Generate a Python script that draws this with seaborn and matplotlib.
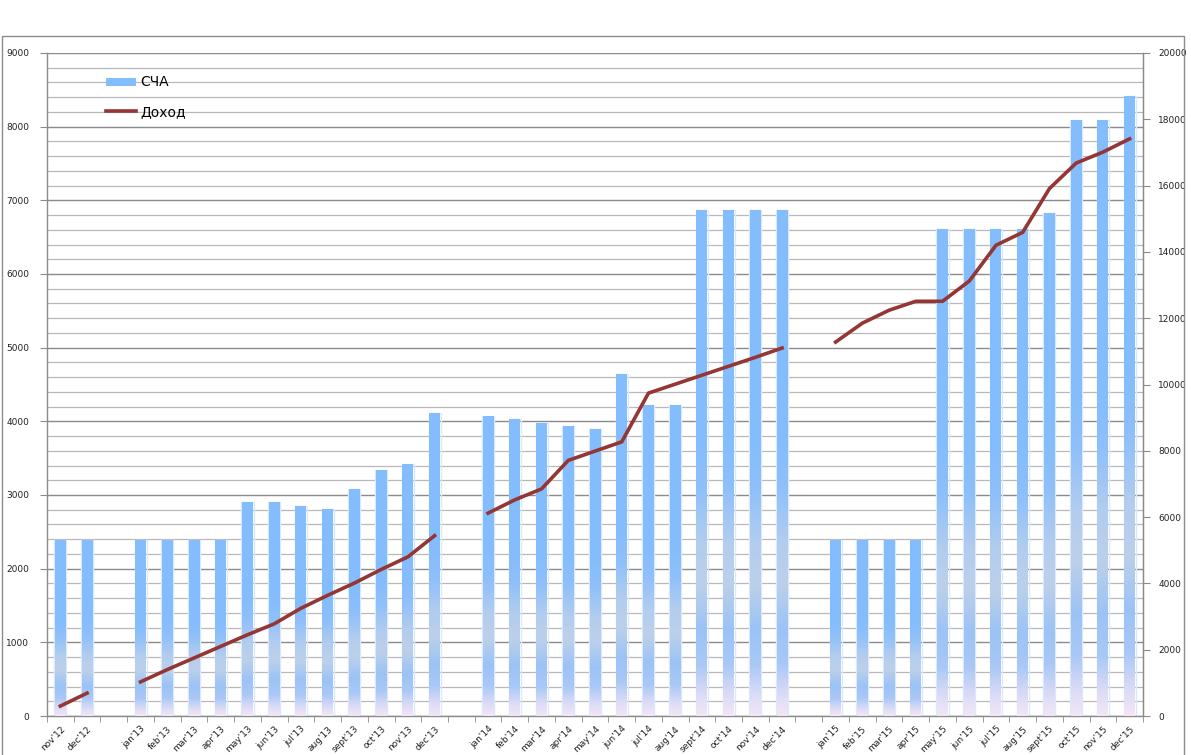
import numpy as np
import pandas as pd
import matplotlib
matplotlib.use("Agg")
import matplotlib.pyplot as plt
from matplotlib.colors import LinearSegmentedColormap
from matplotlib.lines import Line2D
from matplotlib.patches import Rectangle, Patch
import seaborn as sns

# ---- data ----
labels = ["nov'12", "dec'12", "",
          "jan'13", "feb'13", "mar'13", "apr'13", "may'13", "jun'13", "jul'13", "aug'13",
          "sept'13", "oct'13", "nov'13", "dec'13", " ",
          "jan'14", "feb'14", "mar'14", "apr'14", "may'14", "jun'14", "jul'14", "aug'14",
          "sept'14", "oct'14", "nov'14", "dec'14", "  ",
          "jan'15", "feb'15", "mar'15", "apr'15", "may'15", "jun'15", "jul'15", "aug'15",
          "sept'15", "oct'15", "nov'15", "dec'15"]
sca = [2390, 2390, np.nan,
       2390, 2390, 2390, 2390, 2900, 2900, 2850, 2810, 3080, 3340, 3420, 4110, np.nan,
       4070, 4030, 3980, 3940, 3900, 4640, 4220, 4220, 6870, 6870, 6870, 6870, np.nan,
       2390, 2390, 2390, 2390, 6610, 6610, 6610, 6610, 6830, 8090, 8090, 8410]
income = [300, 690, np.nan,
          1030, 1400, 1750, 2100, 2450, 2780, 3250, 3640, 4010, 4420, 4800, 5440, np.nan,
          6120, 6520, 6850, 7710, 7990, 8270, 9740, 10010, 10280, 10550, 10820, 11100, np.nan,
          11280, 11850, 12240, 12510, 12510, 13120, 14200, 14590, 15910, 16680, 17010, 17410]
segment = [0, 0, -1] + [1] * 12 + [-1] + [2] * 12 + [-1] + [3] * 12

df = pd.DataFrame({"label": labels, "sca": sca, "income": income,
                   "pos": np.arange(len(labels)), "seg": segment})

W, H = 1191, 755
fig = plt.figure(figsize=(W / 100, H / 100), dpi=100)
ax = fig.add_axes([47 / W, 1 - 716 / H, (1143 - 47) / W, (716 - 53) / H])

# outer frame
fig.patches.append(Rectangle((2 / W, -0.01), (1184 - 2) / W, (H - 36) / H + 0.01,
                             transform=fig.transFigure, fill=False,
                             edgecolor="#8c8c8c", lw=1.0, zorder=0))

sns.barplot(data=df, x="label", y="sca", order=labels, color="#84bdfd",
            width=0.41, ax=ax, zorder=3, errorbar=None, saturation=1)

# gradient fill for bars
cmap = LinearSegmentedColormap.from_list("bargrad", [
    (0.00, "#f2e6f6"), (0.04, "#dcdcf6"), (0.10, "#a9c8f6"), (0.17, "#9cc3f6"),
    (0.26, "#bcd0ea"), (0.34, "#b3cdef"), (0.45, "#8fc0fa"), (0.55, "#84bdfd"),
    (1.00, "#84bdfd")])
grad = np.linspace(0, 1, 256).reshape(-1, 1)
for p in list(ax.patches):
    h = p.get_height()
    if not np.isfinite(h) or h <= 0:
        continue
    x0 = p.get_x()
    w = p.get_width()
    p.set_facecolor("none")
    p.set_edgecolor("none")
    im = ax.imshow(grad, cmap=cmap, origin="lower", aspect="auto",
                   extent=[x0, x0 + w, 0, h], zorder=3, interpolation="bilinear")
    im.set_clip_path(p)
    # soft glow edges
    ax.add_patch(Rectangle((x0 - 0.02, 0), w + 0.04, h, facecolor="none",
                           edgecolor="#dbe9fb", lw=1.0, zorder=2))

ax.set_xlim(-0.5, len(labels) - 0.5)
ax.set_ylim(0, 9000)
ax.set_yticks(np.arange(0, 9001, 1000))
ax.set_yticks(np.arange(0, 9001, 200), minor=True)
ax.grid(which="major", axis="y", color="#8a8a8a", lw=1.0, zorder=0)
ax.grid(which="minor", axis="y", color="#b8b8b8", lw=0.9, zorder=0)
ax.grid(which="both", axis="x", visible=False)
ax.set_axisbelow(True)

ax.set_xticks(np.arange(len(labels)))
ax.set_xticklabels(labels, rotation=45, ha="right", rotation_mode="anchor",
                   fontsize=6.5, color="#222222")
ax.set_xticks(np.arange(-0.5, len(labels), 1), minor=True)
ax.tick_params(axis="x", which="major", length=0, pad=6)
ax.tick_params(axis="x", which="minor", length=4, color="#8a8a8a", direction="out")
ax.tick_params(axis="y", which="major", length=5, color="#8a8a8a", labelsize=6.5,
               labelcolor="#222222", pad=8)
ax.tick_params(axis="y", which="minor", length=0)
ax.set_xlabel("")
ax.set_ylabel("")
for s in ["top"]:
    ax.spines[s].set_visible(False)
for s in ["left", "bottom", "right"]:
    ax.spines[s].set_color("#8a8a8a")
    ax.spines[s].set_linewidth(1.0)

ax2 = ax.twinx()
sns.lineplot(data=df.dropna(subset=["income"]), x="pos", y="income", units="seg",
             estimator=None, color="#943634", lw=2.6, ax=ax2, zorder=5, legend=False)
ax2.set_ylim(0, 20000)
ax2.set_yticks(np.arange(0, 20001, 2000))
ax2.tick_params(axis="y", length=5, color="#8a8a8a", labelsize=6.5,
                labelcolor="#222222", pad=6)
ax2.set_ylabel("")
ax2.set_xlabel("")
ax2.grid(False)
for s in ["top", "left", "bottom"]:
    ax2.spines[s].set_visible(False)
ax2.spines["right"].set_color("#8a8a8a")
ax2.set_xlim(-0.5, len(labels) - 0.5)

handles = [Patch(facecolor="#84bdfd", edgecolor="none"),
           Line2D([0], [0], color="#943634", lw=2.6)]
fig.legend(handles, ["СЧА", "Доход"], loc="upper left",
           bbox_to_anchor=(93 / W, 1 - 63 / H), frameon=False, fontsize=10,
           handlelength=2.2, handleheight=0.5, labelspacing=1.1, handletextpad=0.3)

fig.savefig("out.png", dpi=100, facecolor="white")
